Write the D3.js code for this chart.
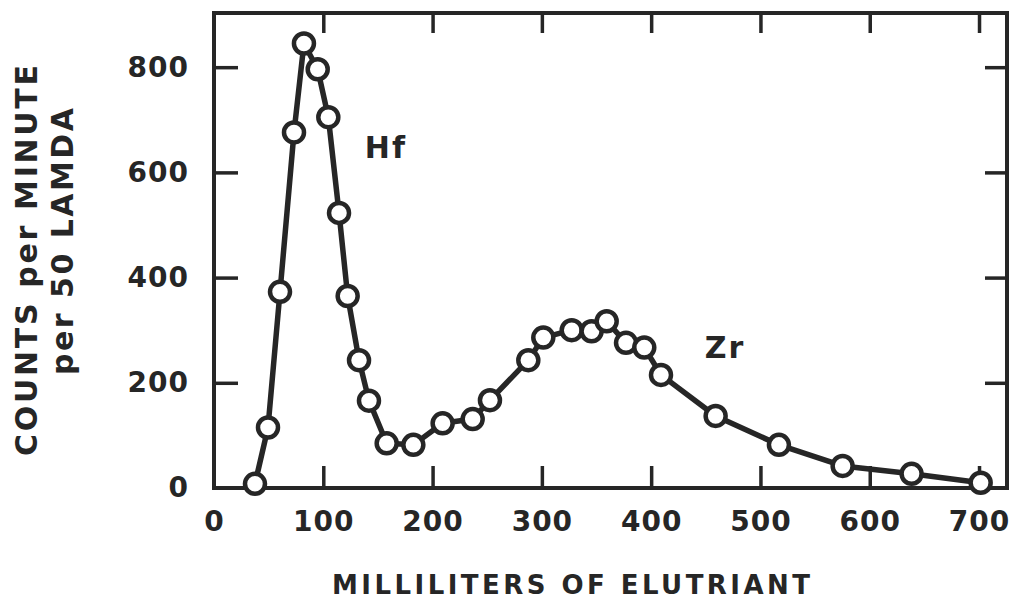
<!DOCTYPE html>
<html>
<head>
<meta charset="utf-8">
<script src="https://cdn.jsdelivr.net/npm/d3@7"></script>
<style>
  html, body { margin: 0; padding: 0; background: #fff; }
  svg { display: block; }
  text { font-family: "DejaVu Sans", "Verdana", sans-serif; font-weight: bold; fill: #262626; }
</style>
</head>
<body>
<svg id="chart" width="1011" height="605"></svg>
<script>
// Data
const milliliters = [37.5, 49.4, 60.4, 73.2, 82.3, 94.9, 104.6, 114.4, 122.3, 132.7, 141.8, 158, 182.4, 209.2, 236.7, 252.5, 287.6, 301.3, 327.3, 345.5, 359.3, 377, 393.7, 409, 459, 516.9, 575.2, 638.3, 701.5];
const counts = [8, 115, 373, 676, 845, 796, 705, 523, 365, 243, 166, 85, 82, 123, 131, 167, 243, 286, 300, 298, 317, 276, 267, 215, 137, 82, 42, 27, 10];
const xTicks = [0, 100, 200, 300, 400, 500, 600, 700];
const yTicks = [0, 200, 400, 600, 800];
const seriesLabels = [{ name: "Hf", x: 138, y: 628 }, { name: "Zr", x: 449, y: 247 }];
const xTitle = "MILLILITERS  OF  ELUTRIANT";
const yTitle1 = "COUNTS  per  MINUTE";
const yTitle2 = "per  50  LAMDA";

(function () {
const ink = "#262626";
const svg = d3.select("#chart");
const pL = 214, pR = 1007, pT = 13, pB = 488;

const x = d3.scaleLinear().domain([0, 725.6]).range([pL, pR]);
const y = d3.scaleLinear().domain([0, 903]).range([pB, pT]);

// Frame
svg.append("rect")
  .attr("x", pL).attr("y", pT)
  .attr("width", pR - pL).attr("height", pB - pT)
  .attr("fill", "none").attr("stroke", ink).attr("stroke-width", 4);

function styleAxis(g) {
  g.select(".domain").remove();
  g.selectAll(".tick line").attr("stroke", ink).attr("stroke-width", 3.5);
  g.selectAll(".tick text").attr("fill", ink).style("font-size", "28px").style("letter-spacing", "1px");
}

// Bottom axis
svg.append("g").attr("transform", `translate(0,${pB})`)
  .call(d3.axisBottom(x).tickValues(xTicks).tickSize(-22).tickPadding(23).tickFormat(d3.format("d")))
  .call(styleAxis)
  .call(g => g.selectAll(".tick").filter(d => d === 0).select("line").remove());

// Top axis (ticks only)
svg.append("g").attr("transform", `translate(0,${pT})`)
  .call(d3.axisTop(x).tickValues(xTicks.filter(d => d > 0)).tickSize(-20).tickFormat(""))
  .call(styleAxis);

// Left axis
svg.append("g").attr("transform", `translate(${pL},0)`)
  .call(d3.axisLeft(y).tickValues(yTicks).tickSize(-24).tickPadding(25).tickFormat(d3.format("d")))
  .call(styleAxis)
  .call(g => g.selectAll(".tick").filter(d => d === 0).select("line").remove());

// Right axis (ticks only)
svg.append("g").attr("transform", `translate(${pR},0)`)
  .call(d3.axisRight(y).tickValues(yTicks.filter(d => d > 0)).tickSize(-22).tickFormat(""))
  .call(styleAxis);

// Data
const pts = milliliters.map((m, i) => [m, counts[i]]);
const line = d3.line().x(d => x(d[0])).y(d => y(d[1]));
svg.append("path").datum(pts)
  .attr("d", line)
  .attr("fill", "none").attr("stroke", ink).attr("stroke-width", 5.5)
  .attr("stroke-linejoin", "round").attr("stroke-linecap", "round");

svg.append("g").selectAll("circle").data(pts).join("circle")
  .attr("cx", d => x(d[0])).attr("cy", d => y(d[1]))
  .attr("r", 10)
  .attr("fill", "#fff").attr("stroke", ink).attr("stroke-width", 4.5);

// Series labels
svg.append("g").selectAll("text").data(seriesLabels).join("text")
  .attr("x", d => x(d.x)).attr("y", d => y(d.y))
  .style("font-size", "30px").style("letter-spacing", "2px")
  .text(d => d.name);

// Axis titles
svg.append("text")
  .attr("x", 332).attr("y", 594)
  .attr("textLength", 478).attr("lengthAdjust", "spacing")
  .style("font-size", "26px")
  .text(xTitle);

svg.append("text")
  .attr("transform", "translate(37,456) rotate(-90)")
  .attr("textLength", 391).attr("lengthAdjust", "spacing")
  .style("font-size", "30px")
  .text(yTitle1);

svg.append("text")
  .attr("transform", "translate(73,375) rotate(-90)")
  .attr("textLength", 267).attr("lengthAdjust", "spacing")
  .style("font-size", "30px")
  .text(yTitle2);
})();
</script>
</body>
</html>
